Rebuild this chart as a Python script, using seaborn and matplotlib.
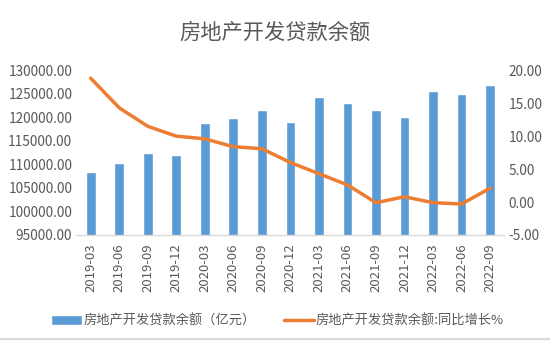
import matplotlib
matplotlib.use("Agg")
import matplotlib.pyplot as plt
import seaborn as sns
import pandas as pd
import numpy as np

categories = ["2019-03", "2019-06", "2019-09", "2019-12", "2020-03", "2020-06", "2020-09",
              "2020-12", "2021-03", "2021-06", "2021-09", "2021-12", "2022-03", "2022-06", "2022-09"]
balance = [108400, 110400, 112400, 112100, 118900, 119800, 121600,
           119100, 124300, 123100, 121600, 120100, 125700, 125000, 126800]
yoy = [18.8, 14.3, 11.5, 10.0, 9.6, 8.4, 8.1, 6.0, 4.3, 2.6, -0.1, 0.8, -0.1, -0.3, 2.1]
left_ticks = [95000, 100000, 105000, 110000, 115000, 120000, 125000, 130000]
right_ticks = [-5, 0, 5, 10, 15, 20]

bar_label = "房地产开发贷款余额（亿元）"
line_label = "房地产开发贷款余额:同比增长%"
title = "房地产开发贷款余额"

sns.set_theme(style="white")
plt.rcParams['font.family'] = ['Noto Sans CJK SC', 'DejaVu Sans']

df = pd.DataFrame({"cat": categories, "balance": balance, "yoy": yoy})

fig = plt.figure(figsize=(5.5, 3.43), dpi=100)
ax = fig.add_axes([0.139, 0.315, 0.778, 0.48])
ax2 = ax.twinx()

sns.barplot(data=df, x="cat", y="balance", color="#5B9BD5", width=0.34, ax=ax,
            saturation=1, label=bar_label)
sns.lineplot(x=np.arange(len(categories)), y=df["yoy"], color="#ED7D31", linewidth=2.5,
             ax=ax2, label=line_label)

txt = "#595959"
ax.set_ylim(95000, 130000)
ax.set_yticks(left_ticks)
ax.set_yticklabels([f"{v:.2f}" for v in left_ticks], color=txt, fontsize=9.8)
ax2.set_ylim(-5, 20)
ax2.set_yticks(right_ticks)
ax2.set_yticklabels([f"{v:.2f}" for v in right_ticks], color=txt, fontsize=9.8)
ax.set_xlim(-0.5, len(categories) - 0.5)
ax.set_xticks(range(len(categories)))
ax.set_xticklabels(categories, rotation=90, color=txt, fontsize=9.5)
ax.set_xlabel("")
ax.set_ylabel("")
ax2.set_ylabel("")
for a in (ax, ax2):
    for s in a.spines.values():
        s.set_visible(False)
    a.tick_params(length=0, pad=3)
ax.tick_params(axis="x", pad=6)
ax.spines["bottom"].set_visible(True)
ax.spines["bottom"].set_color("#D9D9D9")
ax.spines["bottom"].set_linewidth(1)

fig.text(0.5, 0.905, title, ha="center", va="center", fontsize=15.3, color="#595959")

h1, l1 = ax.get_legend_handles_labels()
h2, l2 = ax2.get_legend_handles_labels()
if ax.get_legend():
    ax.get_legend().remove()
if ax2.get_legend():
    ax2.get_legend().remove()
fig.legend(h1 + h2, l1 + l2, loc="center", bbox_to_anchor=(0.505, 0.064), ncol=2,
           frameon=False, fontsize=9.5, labelcolor=txt, handlelength=2.3,
           handletextpad=0.15, columnspacing=2.1)

fig.add_artist(plt.Line2D([0, 1], [0.012, 0.012], color="#D9D9D9", linewidth=1.5,
                          transform=fig.transFigure))

fig.savefig("out.png", dpi=100, facecolor="white")
